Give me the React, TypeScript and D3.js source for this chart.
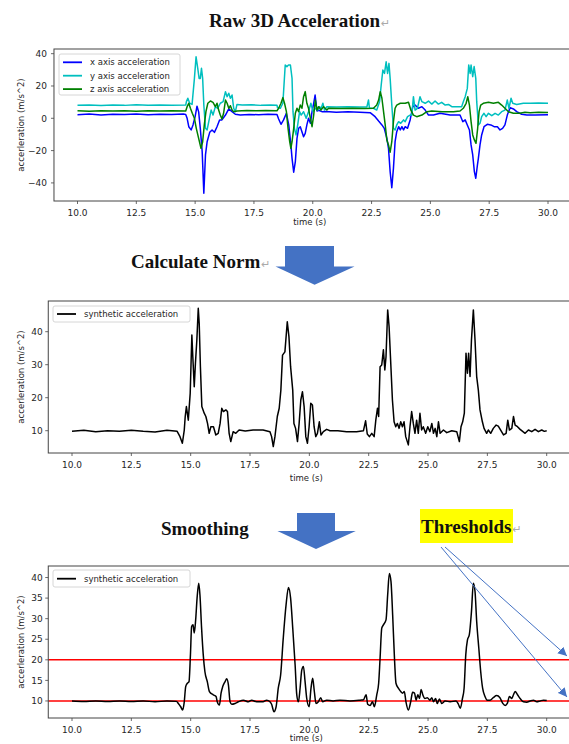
import React from 'react';
import * as d3 from 'd3';

type Pt = [number, number];

// [time (s), acceleration (m/s^2)]
const xAxisAcc: Pt[] = [
  [10, 2.2], [10.5, 2.6], [11, 2.1], [11.5, 2.5], [12, 2.3], [12.5, 2.7], [13, 2.2], [13.5, 2.5], [14, 2.3], [14.5, 2.6],
  [14.6, 2.4], [14.66, 0], [14.73, -5.2], [14.83, -7.2], [14.91, -4.1], [15.0, 1], [15.08, 7.5], [15.15, 4], [15.22, -6.2],
  [15.3, -20.6], [15.37, -46.4], [15.44, -22.7], [15.51, -14.5], [15.62, -8.7], [15.72, -7.2], [15.82, -8.7], [15.93, -5.2],
  [16.04, -1], [16.14, -1], [16.29, 2], [16.43, 5.8], [16.57, 4.1], [16.71, 2.5], [16.92, 2], [17.3, 2.4], [17.7, 2.2],
  [18.1, 2.5], [18.48, 2.4], [18.55, -0.4], [18.65, -3.7], [18.76, -1], [18.88, 3.1], [18.98, -4.1], [19.07, -16.5],
  [19.12, -24.8], [19.19, -33.4], [19.26, -26.8], [19.33, -12.4], [19.4, -6.2], [19.47, -5.2], [19.54, -8.3], [19.61, -11.4],
  [19.68, -9.3], [19.75, -4.1], [19.82, 0], [19.9, -3.1], [19.97, 4.1], [20.04, 9.3], [20.1, 14.4], [20.18, 4.5], [20.25, 5],
  [20.39, 4.1], [20.55, 4.2], [21, 3.8], [21.5, 4], [22, 3.8], [22.44, 3.5], [22.65, 1], [22.8, -1.7], [22.94, -4.1],
  [23.04, -6.2], [23.15, -12.4], [23.22, -18.6], [23.29, -33], [23.36, -43], [23.43, -31], [23.5, -14.5], [23.57, -8.3],
  [23.65, -5.2], [23.72, -7.2], [23.79, -5.2], [23.86, -7.2], [23.93, -5.2], [24.03, -6.2], [24.14, -1], [24.25, 7.1],
  [24.35, 8.2], [24.49, 6.2], [24.64, 7.2], [24.78, 5.1], [24.92, 2], [25.13, 2], [25.41, 3.1], [25.84, 2], [26.26, 2],
  [26.38, -2.1], [26.48, -1], [26.57, -4.1], [26.66, -7.2], [26.73, -16.5], [26.8, -22.7], [26.87, -33], [26.93, -37.1],
  [27.0, -28.9], [27.04, -24.8], [27.11, -16.5], [27.18, -10.3], [27.28, -5.2], [27.42, -3.7], [27.57, -4.1], [27.71, -5.2],
  [27.85, -5.2], [27.96, -7.2], [28.07, -6.2], [28.17, -4.1], [28.27, 2], [28.39, 6.6], [28.53, 5.8], [28.67, 4.1],
  [28.88, 2.5], [29.1, 2], [29.45, 2], [30, 2.2],
];

const yAxisAcc: Pt[] = [
  [10, 8.0], [10.5, 8.3], [11, 7.9], [11.5, 8.2], [12, 8.0], [12.5, 8.4], [13, 8.1], [13.5, 8.3], [14, 8.0], [14.6, 8.2],
  [14.63, 10.3], [14.69, 12.4], [14.77, 9.3], [14.87, 8.6], [14.97, 24.7], [15.04, 38.1], [15.11, 31], [15.17, 24.7],
  [15.22, 24.7], [15.27, 31], [15.32, 24.7], [15.37, 8.2], [15.44, -6.2], [15.51, -7.2], [15.58, -2.1], [15.68, 5.1],
  [15.76, 2], [15.86, 7.2], [15.96, 6.2], [16.07, 9.3], [16.19, 10.3], [16.29, 16.5], [16.36, 13.4], [16.43, 15.5],
  [16.5, 12.4], [16.57, 14.4], [16.64, 6.2], [16.71, 4.1], [16.78, 8.6], [17, 8.2], [17.4, 8.4], [17.8, 8.0], [18.2, 8.3],
  [18.48, 8.1], [18.5, 6.6], [18.62, 6.2], [18.73, 9.3], [18.83, 33], [18.9, 32], [18.97, 33], [19.05, 33], [19.12, 24.7],
  [19.16, 4.1], [19.22, -6.2], [19.29, -10.3], [19.36, -4.1], [19.44, 4.1], [19.51, 2], [19.61, 4.1], [19.72, 0],
  [19.82, 4.1], [19.92, 9.3], [20.01, 4.1], [20.11, 6.2], [20.21, 5.1], [20.29, 7.2], [20.36, 6.2], [20.43, 9.3],
  [20.5, 5.1], [20.6, 7.2], [21, 7.0], [21.5, 7.2], [22, 7.0], [22.3, 7.0], [22.37, 11.3], [22.41, 6.2], [22.58, 6.2],
  [22.72, 5.1], [22.84, 10.3], [22.91, 20.6], [22.98, 29.9], [23.05, 27.8], [23.12, 35], [23.18, 27.8], [23.24, 34],
  [23.29, 24.7], [23.36, 8.2], [23.43, -6.2], [23.5, -7.2], [23.57, -4.1], [23.65, -2.1], [23.74, -3.1], [23.86, -1],
  [23.93, -2.1], [24.03, 1], [24.14, 2], [24.21, 2], [24.28, 13.4], [24.35, 5.1], [24.45, 6.2], [24.56, 13.4], [24.64, 10.3],
  [24.78, 9.3], [24.92, 10.7], [25.06, 8.8], [25.2, 10.7], [25.34, 8.8], [25.48, 9.9], [25.63, 8.2], [25.77, 8.6],
  [25.91, 7.2], [26.12, 7.2], [26.33, 7.2], [26.4, 10.3], [26.48, 13.4], [26.57, 18.5], [26.63, 33], [26.69, 27.8],
  [26.73, 33], [26.8, 25.8], [26.86, 32], [26.93, 24.7], [26.97, 10.3], [27.04, -4.1], [27.11, -3.1], [27.18, 1],
  [27.28, 3.1], [27.37, 1], [27.47, 3.1], [27.61, 1.6], [27.75, 3.1], [27.89, 2], [28.03, 4.1], [28.17, 5.1],
  [28.27, 11.3], [28.34, 6.2], [28.43, 12.4], [28.5, 9.3], [28.67, 8.6], [28.95, 9.3], [29.24, 9.3], [29.6, 9.5], [30, 9.3],
];

const zAxisAcc: Pt[] = [
  [10, 4.6], [10.5, 4.4], [11, 4.7], [11.5, 4.5], [12, 4.6], [12.5, 4.4], [13, 4.7], [13.5, 4.5], [14, 4.6], [14.6, 4.5],
  [14.66, 7.2], [14.73, 9.3], [14.8, 6.2], [14.88, 3.1], [14.97, 0], [15.05, -6.2], [15.15, -12.4], [15.25, -18.6],
  [15.32, -14.5], [15.39, -4.1], [15.46, 4.1], [15.54, 9.3], [15.65, 10.7], [15.76, 9.9], [15.86, 7.2], [15.93, 9.3],
  [16.0, 5.1], [16.07, 2], [16.14, -0.4], [16.21, 3.1], [16.29, 11.3], [16.36, 9.3], [16.43, 6.2], [16.5, 7.8],
  [16.57, 5.1], [16.64, 4.1], [16.78, 4.5], [17.2, 4.8], [17.6, 4.6], [18.0, 4.9], [18.48, 4.7], [18.55, 6.2],
  [18.65, 9.3], [18.73, 12.8], [18.8, 9.3], [18.88, 4.1], [18.95, -6.2], [19.02, -14.5], [19.07, -18.6], [19.12, -14.5],
  [19.19, -6.2], [19.26, 3.1], [19.33, 6.2], [19.4, 4.1], [19.47, 8.2], [19.54, 6.2], [19.61, 13.4], [19.68, 16.5],
  [19.75, 9.3], [19.82, 6.2], [19.9, 0], [19.97, -5.2], [20.04, 2], [20.11, 11.3], [20.18, 5.1], [20.25, 7.2],
  [20.35, 5.1], [20.46, 7.2], [20.6, 5.1], [20.67, 6.2], [21.2, 6.0], [21.7, 6.2], [22.2, 6.0], [22.58, 6.2],
  [22.72, 8.2], [22.8, 11.3], [22.87, 16.5], [22.94, 12.4], [23.01, 4.1], [23.08, -4.1], [23.15, -13.4], [23.22, -16.5],
  [23.29, -21], [23.36, -14.5], [23.43, -2.1], [23.5, 6.2], [23.57, 8.2], [23.72, 9.3], [23.93, 9.3], [24.07, 9.9],
  [24.17, 5.1], [24.28, 2], [24.42, 1], [24.64, 2], [24.85, 4.1], [25.06, 4.5], [25.5, 4.1], [25.98, 4.1], [26.26, 4.5],
  [26.4, 6.2], [26.52, 9.3], [26.59, 13.4], [26.66, 8.2], [26.73, -2.1], [26.8, -10.3], [26.87, -13.4], [26.94, -15.5],
  [27.01, -6.2], [27.07, 4.1], [27.14, 8.2], [27.25, 9.3], [27.47, 9.9], [27.68, 9.3], [27.89, 9.9], [28.03, 8.2],
  [28.17, 6.2], [28.32, 4.1], [28.53, 3.1], [28.8, 3.1], [29.02, 3.7], [29.24, 3.5], [29.6, 3.7], [30, 3.6],
];

const normAcc: Pt[] = [
  [10, 9.8], [10.5, 10.1], [11, 9.7], [11.5, 10], [12, 9.8], [12.5, 10.1], [13, 9.8], [13.5, 9.6], [14, 10.1], [14.43, 9.8],
  [14.55, 8.2], [14.65, 6.2], [14.73, 10.2], [14.77, 14.3], [14.82, 17.3], [14.9, 13.2], [14.98, 21.3], [15.05, 39],
  [15.09, 32.4], [15.15, 23.3], [15.2, 30.4], [15.26, 37.5], [15.32, 47.1], [15.36, 42.5], [15.41, 29.4], [15.47, 17.3],
  [15.57, 15.3], [15.64, 14.3], [15.71, 12.2], [15.78, 9.2], [15.85, 11.2], [15.96, 11.2], [16.06, 8.7], [16.16, 9.2],
  [16.24, 12.2], [16.31, 16.8], [16.38, 15.8], [16.48, 16.3], [16.55, 15.8], [16.62, 9.2], [16.69, 6.7], [16.79, 9.7],
  [16.9, 9.2], [17.04, 10.2], [17.3, 9.9], [17.63, 10.2], [18.05, 10.2], [18.34, 9.7], [18.41, 8.2], [18.48, 5.2],
  [18.55, 8.2], [18.65, 14.3], [18.73, 16.8], [18.8, 22.3], [18.87, 32.9], [18.97, 33.9], [19.07, 43], [19.14, 38.5],
  [19.21, 29.4], [19.3, 22.3], [19.35, 12.2], [19.42, 10.7], [19.5, 6.7], [19.57, 12.2], [19.64, 19.3], [19.71, 21.8],
  [19.78, 17.3], [19.85, 8.2], [19.92, 6.2], [19.99, 11.2], [20.06, 18.3], [20.13, 17.8], [20.2, 11.2], [20.27, 8.2],
  [20.34, 9.2], [20.42, 12.7], [20.49, 8.7], [20.59, 9.7], [20.73, 10.4], [20.87, 10], [21.2, 10], [21.57, 9.7],
  [21.99, 9.7], [22.28, 10], [22.37, 13], [22.44, 9], [22.53, 8.2], [22.63, 9.2], [22.73, 8.2], [22.8, 13.2],
  [22.87, 16.8], [22.92, 14.3], [22.98, 29.4], [23.05, 29.9], [23.12, 34.5], [23.18, 28.4], [23.23, 32.4], [23.3, 46.6],
  [23.36, 41.5], [23.43, 30.4], [23.5, 19.3], [23.57, 12.7], [23.64, 11.2], [23.71, 12.2], [23.78, 10.7], [23.85, 12.7],
  [23.92, 11.2], [23.99, 12.7], [24.06, 8.2], [24.17, 5.7], [24.24, 11.2], [24.31, 15.8], [24.38, 12.2], [24.45, 9.2],
  [24.52, 13.2], [24.59, 9.2], [24.66, 15.3], [24.73, 10.2], [24.8, 11.2], [24.9, 9.2], [24.99, 11.2], [25.08, 9.7],
  [25.16, 12.2], [25.23, 9.2], [25.3, 10.7], [25.37, 8.2], [25.44, 12.7], [25.51, 9.2], [25.65, 10.2], [25.79, 9.4],
  [26.0, 10], [26.21, 9.7], [26.32, 6.7], [26.39, 11.2], [26.46, 12.7], [26.53, 15.3], [26.6, 33.5], [26.66, 27.4],
  [26.71, 33.5], [26.77, 26.4], [26.83, 37.5], [26.91, 46.6], [26.98, 37.5], [27.05, 26.4], [27.12, 22.3], [27.19, 16.3],
  [27.29, 12.7], [27.36, 10.7], [27.47, 9.2], [27.54, 10.2], [27.64, 9.2], [27.75, 10.7], [27.87, 11.7], [27.96, 11.4],
  [28.06, 10.2], [28.18, 8.7], [28.29, 9.2], [28.36, 13.2], [28.43, 10.2], [28.53, 10.7], [28.6, 14.3], [28.67, 11.7],
  [28.77, 11.2], [28.88, 10.4], [29.0, 9.7], [29.09, 9.2], [29.23, 10.2], [29.37, 9.7], [29.51, 10.4], [29.65, 9.7],
  [29.79, 10.2], [29.9, 9.8], [30, 10],
];

const smoothAcc: Pt[] = [
  [10, 10], [10.5, 9.9], [11, 10], [11.5, 9.9], [12, 10], [12.5, 9.9], [13, 10], [13.5, 9.8], [14, 10], [14.4, 9.9],
  [14.48, 9.4], [14.58, 8.6], [14.66, 7.8], [14.73, 9.8], [14.79, 13.5], [14.86, 14.3], [14.93, 14.7], [14.99, 21.2],
  [15.04, 28.1], [15.1, 28.5], [15.15, 26.5], [15.21, 29.7], [15.27, 35], [15.34, 38.6], [15.39, 35.8], [15.46, 27.7],
  [15.53, 21.2], [15.6, 17.1], [15.7, 14.7], [15.79, 12.3], [15.95, 11.5], [16.07, 11.1], [16.12, 9.8], [16.21, 9],
  [16.28, 11.9], [16.35, 13.5], [16.45, 14.7], [16.52, 15.4], [16.59, 13.9], [16.66, 9.8], [16.73, 9.2], [16.87, 9.4],
  [17.01, 9.8], [17.22, 10.2], [17.43, 9.8], [17.57, 10.2], [17.78, 9.8], [18.05, 9.8], [18.2, 10.2], [18.34, 9.8],
  [18.41, 9.2], [18.51, 7.4], [18.6, 8.6], [18.69, 13.1], [18.79, 16.3], [18.9, 25.2], [19.02, 33.4], [19.12, 37.6],
  [19.21, 35], [19.3, 27.7], [19.4, 18.8], [19.47, 11.5], [19.54, 9.8], [19.61, 13.1], [19.68, 17.5], [19.75, 18.4],
  [19.82, 14.7], [19.89, 10.6], [19.99, 8.6], [20.07, 13.1], [20.14, 15.5], [20.21, 12.3], [20.28, 9.4], [20.38, 9.8],
  [20.48, 10.8], [20.56, 9.8], [20.73, 10.2], [21.0, 10], [21.29, 10.2], [21.71, 10], [22.14, 10.2], [22.28, 10.3],
  [22.39, 11.5], [22.46, 9.2], [22.56, 8.9], [22.66, 9.8], [22.74, 8.6], [22.84, 11.5], [22.92, 14.3], [22.98, 20.4],
  [23.05, 27.7], [23.12, 28.5], [23.23, 29.7], [23.3, 35.8], [23.37, 41], [23.44, 39], [23.51, 30.9], [23.58, 21.2],
  [23.65, 14.3], [23.75, 13.1], [23.85, 12.3], [23.93, 11.9], [24.0, 12.3], [24.07, 9.8], [24.17, 7.8], [24.27, 9.8],
  [24.35, 12.1], [24.43, 11.9], [24.5, 10.2], [24.57, 11.5], [24.64, 10.6], [24.71, 12.8], [24.78, 11.5], [24.87, 10.6],
  [24.97, 10.8], [25.08, 10.2], [25.16, 10.8], [25.23, 9.8], [25.32, 10.6], [25.39, 9.4], [25.48, 10.5], [25.58, 9.4],
  [25.72, 10], [25.93, 9.8], [26.18, 10], [26.28, 9.2], [26.36, 8.2], [26.45, 10.6], [26.52, 13.1], [26.59, 21.2],
  [26.66, 24.8], [26.74, 26.1], [26.83, 31.7], [26.91, 38.6], [26.98, 36.6], [27.05, 29.3], [27.14, 22.8], [27.22, 17.1],
  [27.3, 13.1], [27.4, 11.1], [27.5, 10.2], [27.61, 10.2], [27.75, 10.8], [27.89, 11.3], [28.03, 10.8], [28.15, 9.4],
  [28.25, 8.9], [28.34, 9.4], [28.43, 11.1], [28.53, 10.6], [28.6, 11.5], [28.67, 12.3], [28.77, 11.5], [28.88, 10.6],
  [29.02, 9.8], [29.16, 9.7], [29.3, 10], [29.44, 10.2], [29.58, 9.8], [29.72, 10], [29.86, 10.2], [30, 10.1],
];

const thresholds = [20, 10];
const xTicks = [10, 12.5, 15, 17.5, 20, 22.5, 25, 27.5, 30];
const rawYTicks = [-40, -20, 0, 20, 40];
const normYTicks = [10, 20, 30, 40];
const smoothYTicks = [10, 15, 20, 25, 30, 35, 40];

const FONT = 'DejaVu Sans, sans-serif';
const SERIF = 'Liberation Serif, Times New Roman, serif';
const ARROW_BLUE = '#4472C4';

interface Series { data: Pt[]; color: string; label: string }
interface PanelProps {
  xRange: [number, number]; // pixel of t=10 and t=30
  yDomain: [number, number];
  yRange: [number, number];
  yTicks: number[];
  series: Series[];
  legend: { x: number; y: number; w: number; h: number; first: number; step: number };
  tickGap: number;
  xLabelY: number;
  smooth?: boolean;
  hlines?: number[];
}

const fmtY = (v: number) => (v < 0 ? '\u2212' + Math.abs(v) : String(v));

const Panel = ({ xRange, yDomain, yRange, yTicks, series, legend, tickGap, xLabelY, smooth, hlines = [] }: PanelProps) => {
  const x = d3.scaleLinear().domain([10, 30]).range(xRange);
  const y = d3.scaleLinear().domain(yDomain).range(yRange);
  const left = x(9);
  const right = x(31);
  const top = yRange[1];
  const bottom = yRange[0];
  const line = d3.line<Pt>()
    .x(d => x(d[0]))
    .y(d => y(d[1]))
    .curve(smooth ? d3.curveMonotoneX : d3.curveLinear);

  return (
    <g>
      {hlines.map(h => (
        <line key={h} x1={left} x2={right} y1={y(h)} y2={y(h)} stroke="#ff0000" strokeWidth={1.5} />
      ))}
      {series.map(s => (
        <path key={s.label + s.color} d={line(s.data) || ''} fill="none" stroke={s.color} strokeWidth={1.5} strokeLinejoin="round" />
      ))}
      {/* spines */}
      <rect x={left} y={top} width={right - left} height={bottom - top} fill="none" stroke="#444" strokeWidth={1} />
      {/* x ticks */}
      {xTicks.map(t => (
        <g key={t}>
          <line x1={x(t)} x2={x(t)} y1={bottom} y2={bottom + 3} stroke="#444" strokeWidth={0.8} />
          <text x={x(t)} y={bottom + 14.5} textAnchor="middle" fontFamily={FONT} fontSize={9} fill="#262626">
            {t.toFixed(1)}
          </text>
        </g>
      ))}
      {yTicks.map(t => (
        <g key={t}>
          <line x1={left - 3} x2={left} y1={y(t)} y2={y(t)} stroke="#444" strokeWidth={0.8} />
          <text x={left - tickGap} y={y(t)} dy="0.36em" textAnchor="end" fontFamily={FONT} fontSize={9} fill="#262626">
            {fmtY(t)}
          </text>
        </g>
      ))}
      <text x={(left + right) / 2 - 3} y={xLabelY} textAnchor="middle" fontFamily={FONT} fontSize={8.5} fill="#262626">
        time (s)
      </text>
      <text
        transform={`translate(21,${(top + bottom) / 2}) rotate(-90)`}
        textAnchor="middle"
        dy="0.35em"
        fontFamily={FONT}
        fontSize={8.5}
        fill="#262626"
      >
        accerleration (m/s^2)
      </text>
      {/* legend */}
      <rect x={legend.x} y={legend.y} width={legend.w} height={legend.h} rx={2} fill="#fff" fillOpacity={0.8} stroke="#cccccc" strokeWidth={0.8} />
      {series.map((s, i) => {
        const ly = legend.first + i * legend.step;
        return (
          <g key={'lg' + s.label}>
            <line x1={legend.x + 4} x2={legend.x + 23} y1={ly} y2={ly} stroke={s.color} strokeWidth={1.8} />
            <text x={legend.x + 31} y={ly} dy="0.35em" fontFamily={FONT} fontSize={8.5} fill="#262626">
              {s.label}
            </text>
          </g>
        );
      })}
    </g>
  );
};

const BlockArrow = ({ sx0, sx1, top, wx0, wx1, wy, tipX, tipY }: { sx0: number; sx1: number; top: number; wx0: number; wx1: number; wy: number; tipX: number; tipY: number }) => (
  <polygon
    points={`${sx0},${top} ${sx1},${top} ${sx1},${wy} ${wx1},${wy} ${tipX},${tipY} ${wx0},${wy} ${sx0},${wy}`}
    fill={ARROW_BLUE}
  />
);

const Title = ({ x, y, text, mark = true }: { x: number; y: number; text: string; mark?: boolean }) => (
  <text x={x} y={y} fontFamily={SERIF} fontWeight="bold" fontSize={19} fill="#111">
    {text}
    {mark && (
      <tspan fontFamily={FONT} fontWeight="normal" fontSize={11} fill="#aaa" dx={1}>
        {'\u21B5'}
      </tspan>
    )}
  </text>
);

export default function App() {
  return (
    <svg width={569} height={744} style={{ position: 'absolute', left: 0, top: 0, background: '#fff' }}>
      <defs>
        <marker id="ah" viewBox="0 0 10 10" refX={10} refY={5} markerWidth={9} markerHeight={9} markerUnits="userSpaceOnUse" orient="auto">
          <path d="M0,0 L10,5 L0,10 z" fill={ARROW_BLUE} />
        </marker>
      </defs>

      <Title x={209} y={27} text="Raw 3D Acceleration" />
      <Panel
        xRange={[77.5, 548]}
        yDomain={[-51.2, 42.9]}
        yRange={[201, 49]}
        yTicks={rawYTicks}
        tickGap={7}
        xLabelY={225}
        legend={{ x: 59, y: 54, w: 121, h: 41, first: 62.3, step: 13.4 }}
        series={[
          { data: xAxisAcc, color: '#0000ff', label: 'x axis acceleration' },
          { data: yAxisAcc, color: '#00bfbf', label: 'y axis acceleration' },
          { data: zAxisAcc, color: '#008000', label: 'z axis acceleration' },
        ]}
      />

      <Title x={131} y={268} text="Calculate Norm" />
      <BlockArrow sx0={285} sx1={334} top={246} wx0={275.5} wx1={354.5} wy={266.5} tipX={314.6} tipY={284.7} />

      <Panel
        xRange={[72, 546.7]}
        yDomain={[3.24, 49.3]}
        yRange={[453, 301]}
        yTicks={normYTicks}
        tickGap={5.5}
        xLabelY={480.5}
        legend={{ x: 53, y: 306, w: 137, h: 16, first: 314, step: 13 }}
        series={[{ data: normAcc, color: '#000000', label: 'synthetic acceleration' }]}
      />

      <Title x={161} y={534.5} text="Smoothing" mark={false} />
      <BlockArrow sx0={297} sx1={335} top={513} wx0={277.4} wx1={355.8} wy={531} tipX={316} tipY={549} />
      <rect x={420} y={509} width={93} height={34} fill="#ffff00" />
      <Title x={421} y={533} text="Thresholds" />

      <Panel
        xRange={[72, 546.7]}
        yDomain={[5.86, 42.8]}
        yRange={[718, 566]}
        yTicks={smoothYTicks}
        tickGap={5.5}
        xLabelY={741}
        smooth
        hlines={thresholds}
        legend={{ x: 53, y: 570, w: 137, h: 17, first: 578.7, step: 13 }}
        series={[{ data: smoothAcc, color: '#000000', label: 'synthetic acceleration' }]}
      />

      <line x1={445} y1={547} x2={567} y2={656} stroke={ARROW_BLUE} strokeWidth={1} markerEnd="url(#ah)" />
      <line x1={441} y1={547} x2={567} y2={697} stroke={ARROW_BLUE} strokeWidth={1} markerEnd="url(#ah)" />
    </svg>
  );
}
